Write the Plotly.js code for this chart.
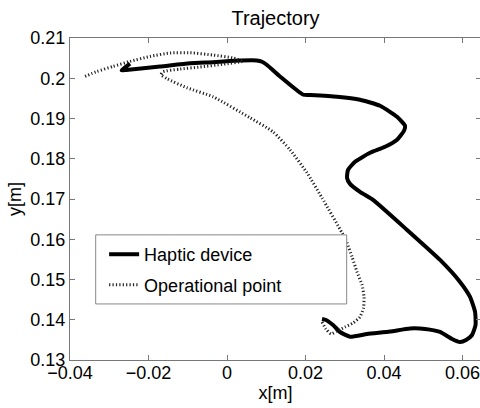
<!DOCTYPE html>
<html>
<head>
<meta charset="utf-8">
<script src="https://cdn.plot.ly/plotly-3.0.1.min.js"></script>
<style>
html,body{margin:0;padding:0;overflow:hidden;background:#fff;}
#chart{width:482px;height:408px;}
</style>
</head>
<body>
<div id="chart"></div>
<script>
// Haptic device trajectory (solid)
var hapticX = [-0.02471,-0.02683,-0.02573,-0.01707,-0.00942,-0.00356,0.00332,0.00757,0.00892,0.01012,0.01351,0.01944,0.02115,0.02803,0.03389,0.03899,0.04332,0.04536,0.04510,0.04332,0.04026,0.03644,0.03262,0.03083,0.03058,0.03134,0.03389,0.03720,0.04587,0.05428,0.05937,0.06192,0.06320,0.06332,0.06243,0.06090,0.05937,0.05733,0.05428,0.05046,0.04663,0.04154,0.03568,0.03134,0.02880,0.02701,0.02523,0.02421];
var hapticY = [0.20361,0.20194,0.20207,0.20291,0.20373,0.20398,0.20440,0.20443,0.20411,0.20336,0.20045,0.19590,0.19582,0.19540,0.19466,0.19316,0.19043,0.18819,0.18695,0.18471,0.18297,0.18147,0.17924,0.17725,0.17526,0.17376,0.17177,0.16978,0.16232,0.15486,0.14939,0.14566,0.14193,0.13870,0.13621,0.13497,0.13447,0.13522,0.13696,0.13771,0.13783,0.13708,0.13646,0.13579,0.13696,0.13870,0.13994,0.14019];

// Operational point trajectory (dotted)
var operX = [0.02421,0.02523,0.02650,0.02803,0.03007,0.03211,0.03389,0.03478,0.03491,0.03440,0.03313,0.03185,0.03058,0.02931,0.02421,0.02039,0.01606,0.01172,0.00586,-0.00356,-0.01019,-0.01528,-0.01681,-0.01630,-0.01197,-0.00688,-0.00102,0.00408,0.00153,-0.00356,-0.00942,-0.01452,-0.01962,-0.02471,-0.02904,-0.03312,-0.03661];
var operY = [0.13944,0.13770,0.13646,0.13720,0.13820,0.13919,0.14069,0.14293,0.14566,0.14865,0.15188,0.15561,0.15909,0.16158,0.17028,0.17650,0.18222,0.18670,0.19018,0.19540,0.19764,0.19988,0.20087,0.20162,0.20229,0.20279,0.20348,0.20423,0.20503,0.20577,0.20634,0.20627,0.20542,0.20418,0.20294,0.20169,0.20030];

var seriesNames = ["Haptic device", "Operational point"];
var xTicks = [-0.04,-0.02,0,0.02,0.04,0.06];
var xTickText = ["\u22120.04","\u22120.02","0","0.02","0.04","0.06"];
var yTicks = [0.13,0.14,0.15,0.16,0.17,0.18,0.19,0.20,0.21];
var yTickText = ["0.13","0.14","0.15","0.16","0.17","0.18","0.19","0.2","0.21"];

var FONT = "Liberation Sans, Arial, Helvetica, sans-serif";

var traces = [
  {x: hapticX, y: hapticY, mode: "lines", name: seriesNames[0], legendgroup: "a",
   line: {color: "#000", width: 4, shape: "spline", smoothing: 0.5}},
  {x: operX, y: operY, mode: "lines", name: seriesNames[1], legendgroup: "b",
   line: {color: "#222", width: 3, dash: "1.2px,2.2px", shape: "spline", smoothing: 0.5}}
];

var axisCommon = {
  showgrid: false, zeroline: false, showline: true, linecolor: "#777", linewidth: 1,
  mirror: "ticks", ticks: "inside", ticklen: 5, tickcolor: "#777", tickwidth: 1,
  tickfont: {family: FONT, size: 18, color: "#000"}
};

var layout = {
  width: 482, height: 408,
  margin: {l: 70, r: 1, t: 38, b: 48, pad: 0},
  paper_bgcolor: "#fff", plot_bgcolor: "#fff",
  font: {family: FONT, size: 18, color: "#000"},
  title: {text: "Trajectory", font: {family: FONT, size: 20, color: "#000"},
          x: 0.5, xref: "paper", y: 0.957, yref: "container", yanchor: "middle"},
  xaxis: Object.assign({}, axisCommon, {
    range: [-0.04, 0.06471], tickvals: xTicks, ticktext: xTickText,
    ticklabelstandoff: -4,
    title: {text: "x[m]", font: {family: FONT, size: 18}, standoff: 0}
  }),
  yaxis: Object.assign({}, axisCommon, {
    range: [0.13, 0.21], tickvals: yTicks, ticktext: yTickText,
    title: {text: "y[m]", font: {family: FONT, size: 18}, standoff: 4}
  }),
  showlegend: true,
  legend: {x: 0.083, y: 0.385, xanchor: "left", yanchor: "top",
           bgcolor: "rgba(0,0,0,0)", borderwidth: 0,
           traceorder: "grouped", tracegroupgap: 4,
           font: {family: FONT, size: 18, color: "#000"}},
  shapes: [{type: "rect", xref: "paper", yref: "paper",
            x0: 0.0625, x1: 0.6732, y0: 0.1741, y1: 0.3886,
            line: {color: "#888", width: 1}, fillcolor: "#fff", layer: "above"}]
};

Plotly.newPlot("chart", traces, layout, {displayModeBar: false, staticPlot: true});
</script>
</body>
</html>
